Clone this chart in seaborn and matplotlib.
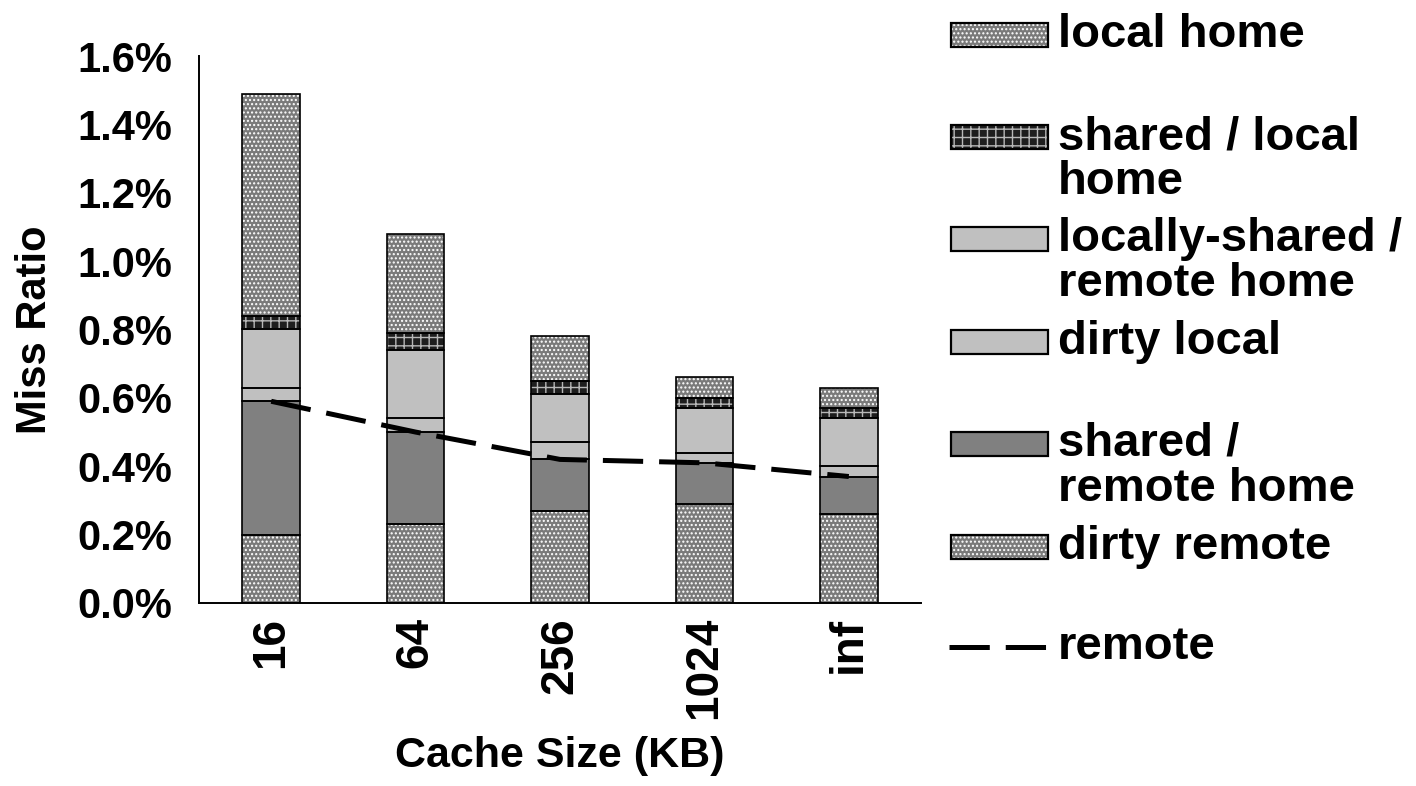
import numpy as np
import matplotlib
matplotlib.use('Agg')
import matplotlib.pyplot as plt
import seaborn as sns
from matplotlib.patches import Rectangle
from matplotlib.lines import Line2D

# ================= data =================
cache_sizes = ['16', '64', '256', '1024', 'inf']

# miss ratio per category (%), stacked bottom -> top
dirty_remote = [0.20, 0.23, 0.27, 0.29, 0.26]
shared_remote_home = [0.39, 0.27, 0.15, 0.12, 0.11]
dirty_local = [0.04, 0.04, 0.05, 0.03, 0.03]
locally_shared_remote_home = [0.17, 0.20, 0.14, 0.13, 0.14]
shared_local_home = [0.04, 0.05, 0.04, 0.03, 0.03]
local_home = [0.65, 0.29, 0.13, 0.06, 0.06]

# remote misses (dashed line)
remote = [0.59, 0.50, 0.42, 0.41, 0.37]

y_ticks = [0.0, 0.2, 0.4, 0.6, 0.8, 1.0, 1.2, 1.4, 1.6]
# ========================================

W, H = 1416, 786
sns.set_theme(style='white')
plt.rcParams['font.family'] = ['Liberation Sans', 'DejaVu Sans']
plt.rcParams['font.weight'] = 'bold'
for key in ['text.color', 'axes.labelcolor', 'xtick.color', 'ytick.color']:
    plt.rcParams[key] = 'black'
plt.rcParams['hatch.linewidth'] = 1.0
plt.rcParams['lines.scale_dashes'] = False

# label, values, face, hatch, hatch colour
segments = [
    ('dirty remote', dirty_remote, '#7a7a7a', '....', '#ffffff'),
    ('shared /\nremote home', shared_remote_home, '#808080', None, '#808080'),
    ('dirty local', dirty_local, '#c0c0c0', None, '#c0c0c0'),
    ('locally-shared /\nremote home', locally_shared_remote_home, '#c0c0c0', None, '#c0c0c0'),
    ('shared / local\nhome', shared_local_home, '#1e1e1e', '++', '#b8b8b8'),
    ('local home', local_home, '#7a7a7a', '....', '#ffffff'),
]

fig = plt.figure(figsize=(W / 100, H / 100), dpi=100)
ax = fig.add_axes([199 / W, 1 - 603 / H, (921 - 199) / W, (603 - 56) / H])

bottom = np.zeros(len(cache_sizes))
for label, vals, fc, hatch, hc in segments:
    sns.barplot(x=cache_sizes, y=vals, bottom=bottom, color=fc, hatch=hatch,
                edgecolor=hc, linewidth=0, width=0.4, saturation=1,
                errorbar=None, ax=ax, zorder=2)
    sns.barplot(x=cache_sizes, y=vals, bottom=bottom, fill=False, color='black',
                linewidth=1.2, width=0.4, errorbar=None, ax=ax, zorder=3)
    bottom += np.array(vals)

sns.lineplot(x=np.arange(len(cache_sizes)), y=remote, color='black',
             linewidth=3.6, linestyle=(0, (29, 11.5)), ax=ax, zorder=4)

ax.set_xlim(-0.5, len(cache_sizes) - 0.5)
ax.set_ylim(0, 1.6)
ax.set_yticks(y_ticks)
ax.set_yticklabels([f'{v:.1f}%' for v in y_ticks])
ax.set_xticks(range(len(cache_sizes)))
ax.set_xticklabels(cache_sizes, rotation=90)
ax.tick_params(axis='y', direction='in', length=7, width=1.2, pad=19, labelsize=30)
ax.tick_params(axis='x', length=0, pad=10, labelsize=33)
for t in ax.get_xticklabels() + ax.get_yticklabels():
    t.set_fontweight('bold')
ax.set_xlabel('Cache Size (KB)', fontsize=31, fontweight='bold', labelpad=12)
ax.set_ylabel('Miss Ratio', fontsize=30, fontweight='bold', labelpad=16)
sns.despine(ax=ax)
for s in ['left', 'bottom']:
    ax.spines[s].set_color('black')
    ax.spines[s].set_linewidth(1.4)

# legend drawn in pixel space on the right
leg = fig.add_axes([0, 0, 1, 1], zorder=5)
leg.set_xlim(0, W)
leg.set_ylim(H, 0)
leg.axis('off')

centers = [35, 137, 239, 342, 444, 547, 647]
for (label, vals, fc, hatch, hc), cy in zip(segments[::-1], centers):
    leg.add_patch(Rectangle((951, cy - 12), 97, 24, facecolor=fc, hatch=hatch,
                            edgecolor=hc, linewidth=0))
    leg.add_patch(Rectangle((951, cy - 12), 97, 24, facecolor='none',
                            edgecolor='black', linewidth=1.6))
    for k, line in enumerate(label.split('\n')):
        leg.text(1058, cy + 12 + 45 * k, line, fontsize=34, fontweight='bold',
                 va='baseline', ha='left')

cy = centers[-1]
leg.add_line(Line2D([949, 1049], [cy, cy], color='black', linewidth=3.6,
                    linestyle=(0, (29, 11.5))))
leg.text(1058, cy + 12, 'remote', fontsize=34, fontweight='bold',
         va='baseline', ha='left')

fig.savefig('out.png', dpi=100)
